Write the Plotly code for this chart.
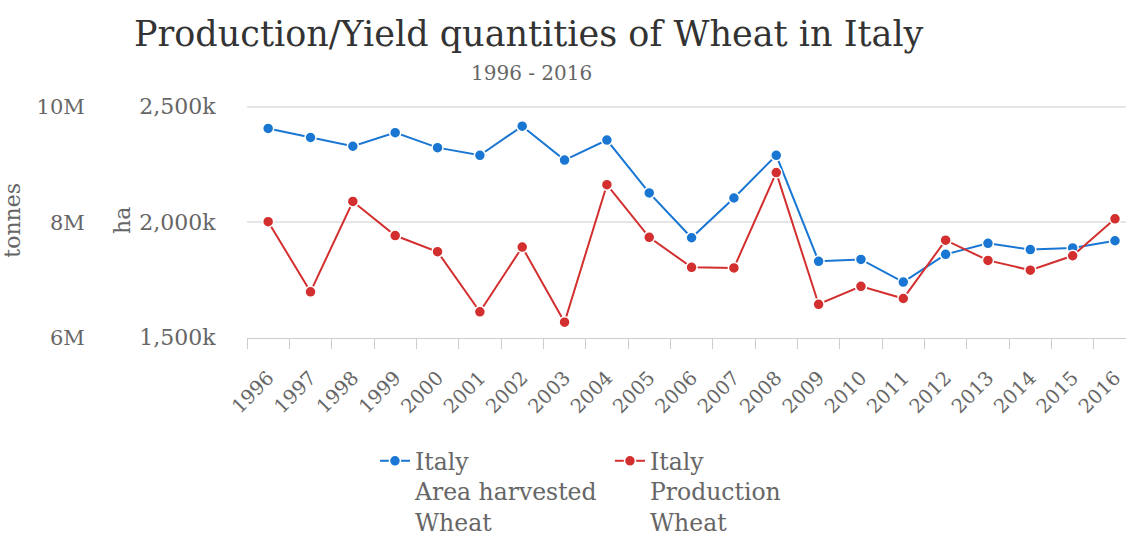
import plotly.graph_objects as go

years = [str(y) for y in range(1996, 2017)]
area_harvested_ha = [2406000, 2367000, 2329000, 2388000, 2323000, 2290000, 2416000, 2269000,
                     2356000, 2127000, 1933000, 2105000, 2290000, 1831000, 1839000, 1741000,
                     1861000, 1909000, 1882000, 1889000, 1920000]
production_t = [8010000, 6795000, 8360000, 7770000, 7490000, 6450000, 7570000, 6270000,
                8650000, 7740000, 7220000, 7210000, 8860000, 6580000, 6890000, 6680000,
                7690000, 7340000, 7170000, 7420000, 8060000]

ha_tickvals = [1500000, 2000000, 2500000]
ha_ticktext = ["1,500k", "2,000k", "2,500k"]
t_tickvals = [6000000, 8000000, 10000000]
t_ticktext = ["6M", "8M", "10M"]

series_names = ["Italy<br>Area harvested<br>Wheat", "Italy<br>Production<br>Wheat"]
title_text = "Production/Yield quantities of Wheat in Italy"
subtitle_text = "1996 - 2016"

W, H = 1126, 544
FONT = "DejaVu Serif"
GRAY = "#666666"
BLUE = "#1976D2"
RED = "#D32F2F"

fig = go.Figure()
fig.add_trace(go.Scatter(
    x=years, y=area_harvested_ha, name=series_names[0], mode="lines+markers",
    line=dict(color=BLUE, width=2),
    marker=dict(color=BLUE, size=11, line=dict(color="white", width=1.5)),
    yaxis="y"))
fig.add_trace(go.Scatter(
    x=years, y=production_t, name=series_names[1], mode="lines+markers",
    line=dict(color=RED, width=2),
    marker=dict(color=RED, size=11, line=dict(color="white", width=1.5)),
    yaxis="y2"))

# plot area: bottom at 348px, 2,500k gridline at 110px; extend a few px above
PAD = 4
x0 = 247 / W
ybot = 1 - 348 / H
ytop = 1 - (110 - PAD) / H
px_ha = (2500000 - 1500000) / 238
px_t = (10000000 - 6000000) / 238

fig.update_layout(
    width=W, height=H, autosize=False,
    margin=dict(l=0, r=0, t=0, b=0),
    paper_bgcolor="white", plot_bgcolor="white",
    font=dict(family=FONT, color=GRAY, size=20),
    showlegend=True,
    legend=dict(orientation="h", x=0.333, y=0.168, xanchor="left", yanchor="top",
                valign="top",
                font=dict(size=23.5, color=GRAY), itemwidth=30, tracegroupgap=0,
                entrywidth=190),
    xaxis=dict(domain=[x0, 1], type="category", range=[-0.5, 20.26], automargin=False,
               showgrid=False, showline=True, linecolor="#cccccc", linewidth=1,
               ticks="outside", tickson="boundaries", ticklen=10, tickcolor="#cccccc",
               ticklabelstandoff=20,
               tickangle=-45, tickfont=dict(size=19.5, color=GRAY)),
    yaxis=dict(domain=[ybot, ytop], range=[1500000, 2500000 + PAD * px_ha], automargin=False,
               tickvals=ha_tickvals, ticktext=ha_ticktext,
               showgrid=True, gridcolor="#e6e6e6", gridwidth=1.5, zeroline=False,
               showline=False, ticks="outside", ticklen=26, tickcolor="rgba(0,0,0,0)",
               tickfont=dict(size=22, color=GRAY),
               title=dict(text="ha", font=dict(size=22, color=GRAY), standoff=2)),
    yaxis2=dict(overlaying="y", anchor="free", position=95 / W, side="left", automargin=False,
                range=[6000000, 10000000 + PAD * px_t],
                tickvals=t_tickvals, ticktext=t_ticktext,
                showgrid=False, zeroline=False, showline=False,
                ticks="outside", ticklen=6, tickcolor="rgba(0,0,0,0)",
                tickfont=dict(size=21, color=GRAY),
                title=dict(text="tonnes", font=dict(size=22, color=GRAY), standoff=14)),
    annotations=[
        dict(text=title_text, x=529 / W, y=1 - 35 / H, xref="paper", yref="paper",
             xanchor="center", yanchor="middle", showarrow=False,
             font=dict(size=35, color="#333333", family=FONT)),
        dict(text=subtitle_text, x=531 / W, y=1 - 75 / H, xref="paper", yref="paper",
             xanchor="center", yanchor="middle", showarrow=False,
             font=dict(size=20, color=GRAY, family=FONT)),
    ],
)

POST = ("document.body.style.margin='0';document.body.style.overflow='hidden';")

fig.write_html("out.html",
               config={"displayModeBar": False, "responsive": False},
               post_script=POST)
